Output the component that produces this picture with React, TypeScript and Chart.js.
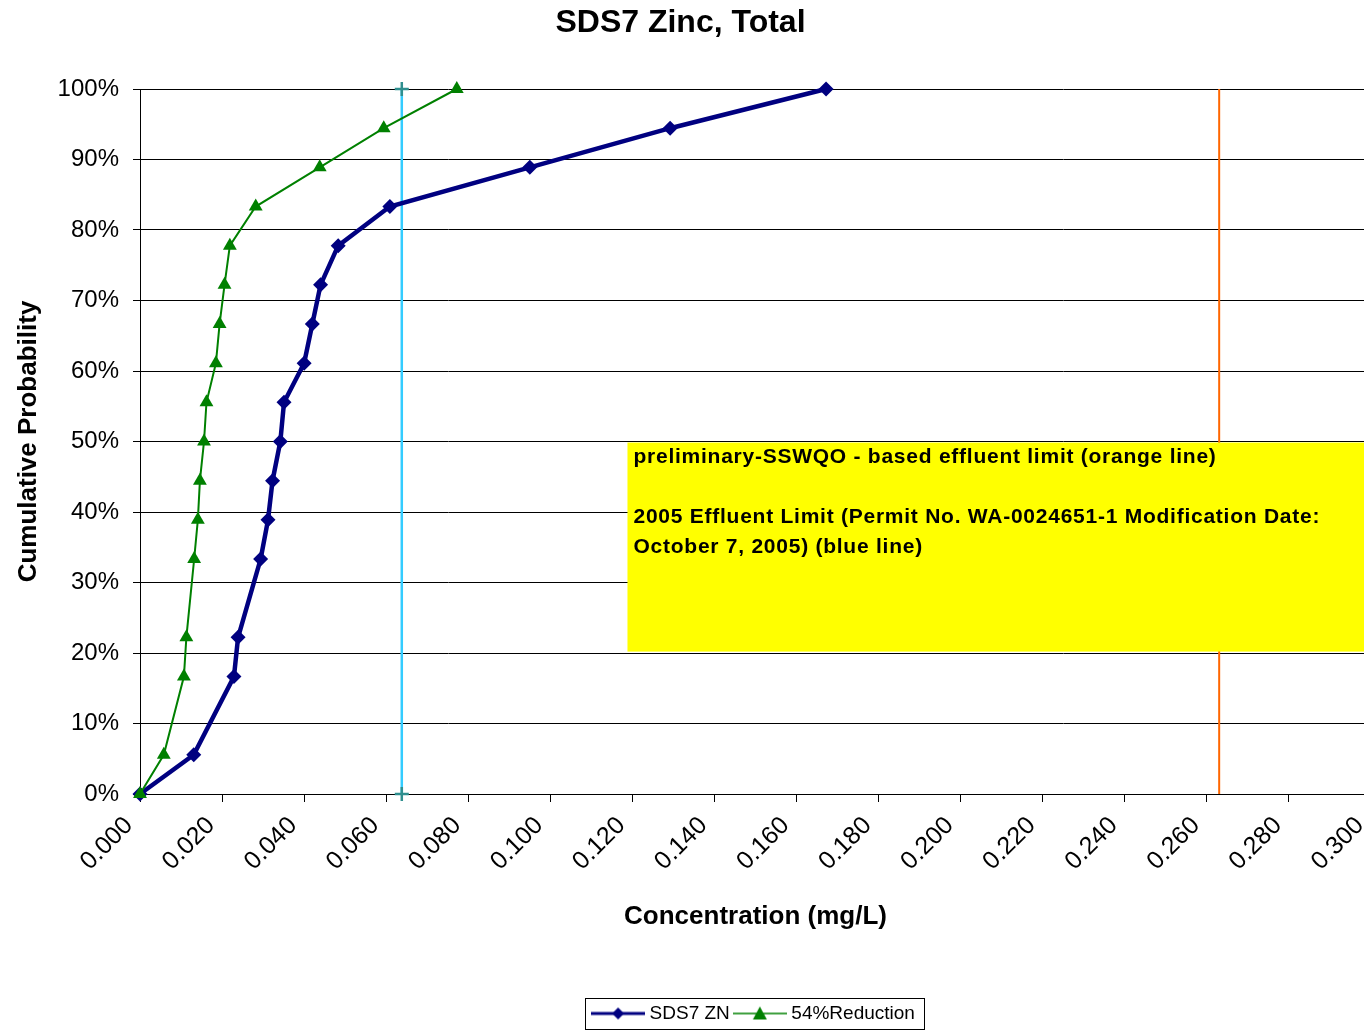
import React, { useEffect, useRef } from 'react';
import { Chart, registerables } from 'chart.js';

Chart.register(...registerables);

// ---- data ----
const probabilities = [0, 5.56, 16.67, 22.22, 33.33, 38.89, 44.44, 50, 55.56, 61.11, 66.67, 72.22, 77.78, 83.33, 88.89, 94.44, 100];
const sds7Zn = [0, 0.0131, 0.0229, 0.0239, 0.0294, 0.0312, 0.0323, 0.0342, 0.0351, 0.04, 0.042, 0.044, 0.0483, 0.0609, 0.095, 0.1292, 0.1672];
const reduction54 = [0, 0.0058, 0.0107, 0.0113, 0.0132, 0.0141, 0.0146, 0.0156, 0.0162, 0.0185, 0.0194, 0.0206, 0.0219, 0.0282, 0.0438, 0.0594, 0.0772];
const blueLimit = 0.0638; // 2005 effluent limit
const orangeLimit = 0.263; // preliminary SSWQO-based limit
const limitRange = [0, 100];
const xTickValues = [0, 0.02, 0.04, 0.06, 0.08, 0.1, 0.12, 0.14, 0.16, 0.18, 0.2, 0.22, 0.24, 0.26, 0.28, 0.3];
const yTickValues = [0, 10, 20, 30, 40, 50, 60, 70, 80, 90, 100];
const seriesNames = ['SDS7 ZN', '54%Reduction'];
const noteLines = [
  'preliminary-SSWQO - based effluent limit (orange line)',
  '',
  '2005 Effluent Limit (Permit No. WA-0024651-1 Modification Date:',
  'October 7, 2005) (blue line)',
];
// note box extent in data units
const noteBoxX = 0.1188;
const noteBoxTop = 49.85;
const noteBoxBottom = 20.2;

const FONT = "'Liberation Sans', Arial, Helvetica, sans-serif";

function makeLegendIcon(kind: 'diamond' | 'triangle', color: string, lw: number): HTMLCanvasElement {
  const c = document.createElement('canvas');
  c.width = 54;
  c.height = 16;
  const ctx = c.getContext('2d')!;
  ctx.strokeStyle = color;
  ctx.fillStyle = color;
  ctx.lineWidth = lw;
  ctx.beginPath();
  ctx.moveTo(0, 8);
  ctx.lineTo(54, 8);
  ctx.stroke();
  ctx.beginPath();
  if (kind === 'diamond') {
    ctx.moveTo(27, 2);
    ctx.lineTo(33, 8);
    ctx.lineTo(27, 14);
    ctx.lineTo(21, 8);
  } else {
    ctx.moveTo(27, 1);
    ctx.lineTo(34, 14);
    ctx.lineTo(20, 14);
  }
  ctx.closePath();
  ctx.fill();
  return c;
}

const notePlugin = {
  id: 'noteBox',
  afterDatasetsDraw(chart: any) {
    const { ctx, chartArea, scales } = chart;
    const x0 = scales.x.getPixelForValue(noteBoxX);
    const y0 = scales.y.getPixelForValue(noteBoxTop);
    const y1 = scales.y.getPixelForValue(noteBoxBottom);
    ctx.save();
    ctx.fillStyle = '#FFFF00';
    ctx.fillRect(x0, y0, chartArea.right - x0, y1 - y0);
    ctx.fillStyle = '#000';
    ctx.font = `bold 21px ${FONT}`;
    try {
      (ctx as any).letterSpacing = '0.75px';
    } catch (e) {
      /* ignore */
    }
    ctx.textBaseline = 'middle';
    ctx.textAlign = 'left';
    noteLines.forEach((t, i) => {
      ctx.fillText(t, x0 + 6, y0 + 15 + i * 30);
    });
    ctx.restore();
  },
};

const legendBorderPlugin = {
  id: 'legendBorder',
  afterDraw(chart: any) {
    const lg = chart.legend;
    if (!lg || !lg.legendHitBoxes || !lg.legendHitBoxes.length) return;
    const hb = lg.legendHitBoxes;
    let l = Infinity, r = -Infinity;
    hb.forEach((h: any) => {
      l = Math.min(l, h.left);
      r = Math.max(r, h.left + h.width);
    });
    const top = hb[0].top;
    const ctx = chart.ctx;
    ctx.save();
    ctx.strokeStyle = '#000';
    ctx.lineWidth = 1;
    ctx.strokeRect(Math.round(l - 11) + 0.5, Math.round(top - 6) + 0.5, Math.round(r - l + 20), Math.round(hb[0].height + 12));
    ctx.restore();
  },
};

export default function App() {
  const ref = useRef<HTMLCanvasElement | null>(null);

  useEffect(() => {
    document.body.style.margin = '0';
    document.body.style.overflow = 'hidden';
    Chart.defaults.font.family = FONT;
    const blueIcon = makeLegendIcon('diamond', '#000080', 3);
    const greenIcon = makeLegendIcon('triangle', '#008000', 1.5);

    const chart = new Chart(ref.current!, {
      type: 'line',
      data: {
        datasets: [
          {
            label: seriesNames[0],
            data: sds7Zn.map((v, i) => ({ x: v, y: probabilities[i] })),
            borderColor: '#000080',
            backgroundColor: '#000080',
            borderWidth: 4.5,
            pointStyle: 'rectRot',
            pointRadius: 7.5,
            pointBorderWidth: 0,
            pointBackgroundColor: '#000080',
            tension: 0,
            clip: false,
            order: 1,
          },
          {
            label: seriesNames[1],
            data: reduction54.map((v, i) => ({ x: v, y: probabilities[i] })),
            borderColor: '#008000',
            backgroundColor: '#008000',
            borderWidth: 2,
            pointStyle: 'triangle',
            pointRadius: 8,
            pointBorderWidth: 0,
            pointBackgroundColor: '#008000',
            tension: 0,
            clip: false,
            order: 0,
          },
          {
            label: 'blue limit',
            data: limitRange.map((p) => ({ x: blueLimit, y: p })),
            borderColor: '#33CCFF',
            borderWidth: 2.5,
            pointStyle: 'cross',
            pointRadius: 7,
            pointBorderWidth: 2.5,
            pointBorderColor: '#2f8f8f',
            tension: 0,
            clip: false,
            order: 2,
          },
          {
            label: 'orange limit',
            data: limitRange.map((p) => ({ x: orangeLimit, y: p })),
            borderColor: '#FF6600',
            borderWidth: 2,
            pointRadius: 0,
            tension: 0,
            clip: false,
            order: 3,
          },
        ],
      },
      options: {
        animation: false,
        responsive: false,
        devicePixelRatio: 1,
        events: [],
        layout: { padding: 0, autoPadding: false },
        scales: {
          x: {
            type: 'linear',
            min: 0,
            max: 0.3,
            afterBuildTicks: (s: any) => {
              s.ticks = xTickValues.map((v) => ({ value: v }));
            },
            ticks: {
              callback: (v: any) => Number(v).toFixed(3),
              font: { size: 25 },
              color: '#000',
              maxRotation: 45,
              minRotation: 45,
              autoSkip: false,
              padding: 9,
              labelOffset: -11,
            },
            grid: { drawOnChartArea: false, tickLength: 8, tickColor: '#000', color: '#000', lineWidth: 1 },
            border: { color: '#000', width: 1 },
            title: {
              display: true,
              text: 'Concentration (mg/L)',
              font: { size: 26, weight: 'bold' },
              color: '#000',
              padding: { top: 0, bottom: 64 },
            },
            afterFit: (s: any) => {
              s.height = 202;
              s.paddingLeft = 0;
              s.paddingRight = 0;
            },
          },
          y: {
            type: 'linear',
            min: 0,
            max: 100,
            afterBuildTicks: (s: any) => {
              s.ticks = yTickValues.map((v) => ({ value: v }));
            },
            ticks: {
              callback: (v: any) => v + '%',
              font: { size: 24 },
              color: '#000',
              padding: 14,
            },
            grid: { color: '#000', lineWidth: 1, tickLength: 7, tickColor: '#000' },
            border: { color: '#000', width: 1 },
            title: {
              display: true,
              text: 'Cumulative Probability',
              font: { size: 26, weight: 'bold' },
              color: '#000',
              padding: { top: 23, bottom: 0 },
            },
            afterFit: (s: any) => {
              s.width = 150;
            },
          },
        },
        plugins: {
          title: {
            display: true,
            text: 'SDS7 Zinc, Total',
            font: { size: 32, weight: 'bold' },
            color: '#000',
            padding: { top: 4, bottom: 46.6 },
          },
          legend: {
            display: true,
            position: 'bottom',
            fullSize: false,
            labels: {
              usePointStyle: true,
              pointStyleWidth: 44,
              font: { size: 19 },
              color: '#000',
              padding: 8,
              generateLabels: () => [
                { text: seriesNames[0], pointStyle: blueIcon, datasetIndex: 0, hidden: false, lineWidth: 0, fontColor: '#000', fillStyle: '#000080', strokeStyle: '#000080' },
                { text: seriesNames[1], pointStyle: greenIcon, datasetIndex: 1, hidden: false, lineWidth: 0, fontColor: '#000', fillStyle: '#008000', strokeStyle: '#008000' },
              ],
            },
          },
          tooltip: { enabled: false },
        },
      } as any,
      plugins: [notePlugin, legendBorderPlugin],
    });
    return () => chart.destroy();
  }, []);

  return (
    <div style={{ position: 'absolute', left: 0, top: 0, width: 1364, height: 1030, overflow: 'hidden', background: '#fff' }}>
      <canvas ref={ref} width={1381} height={1033} style={{ position: 'absolute', left: -10, top: 0, display: 'block' }} />
    </div>
  );
}
